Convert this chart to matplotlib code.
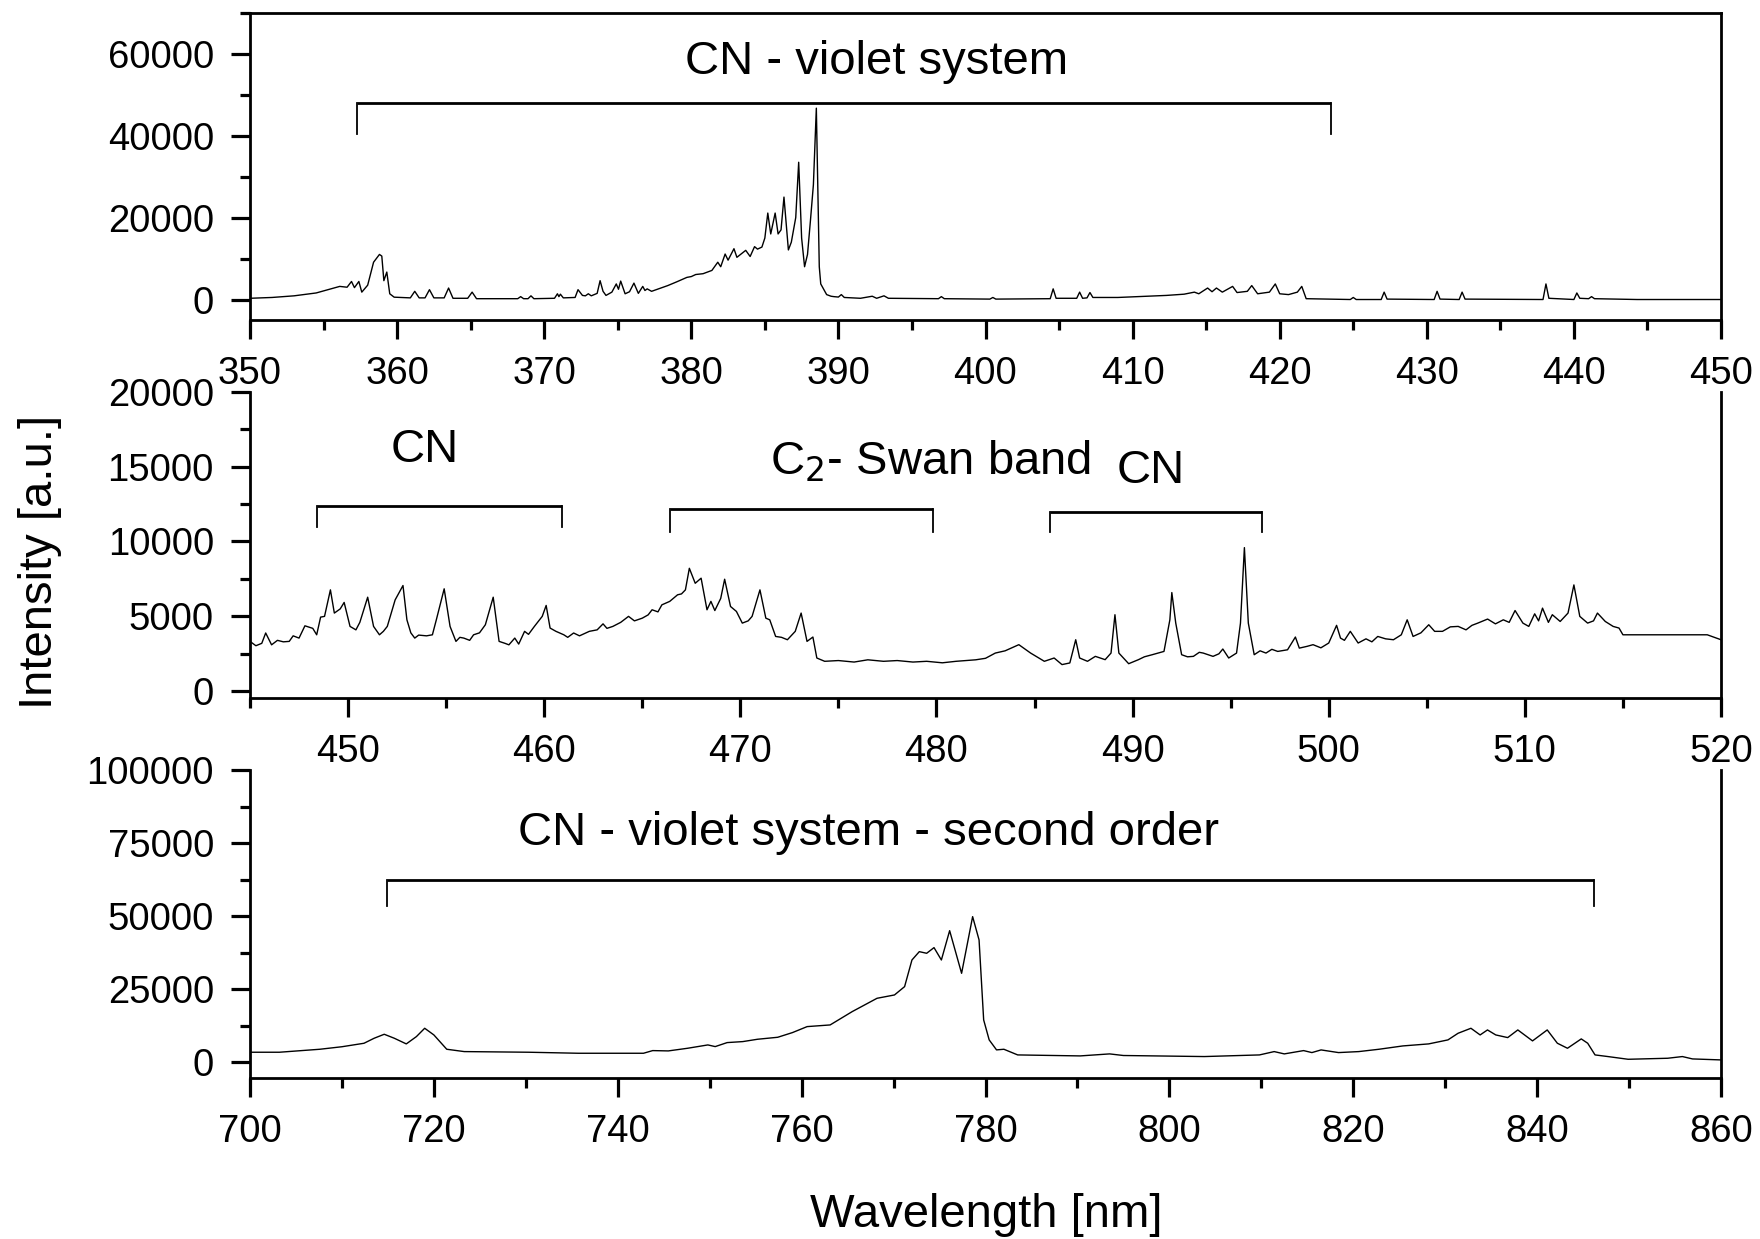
import numpy as np
import matplotlib.pyplot as plt
from matplotlib.ticker import MultipleLocator

plt.rcParams['font.family'] = ['Liberation Sans', 'DejaVu Sans']

# Panel superior: 350-450 nm
wl_top = [350.0, 351.5, 353.0, 354.5, 356.1, 356.6, 356.9, 357.1, 357.4, 357.6, 358.0, 358.4, 358.8, 358.96,
          359.1, 359.3, 359.5, 359.8, 360.9, 361.2, 361.5, 361.9, 362.2, 362.5, 363.2, 363.5, 363.8, 364.8,
          365.1, 365.4, 368.2, 368.4, 368.6, 368.9, 369.1, 369.3, 370.7, 370.9, 371.0, 371.1, 371.3, 372.1,
          372.3, 372.6, 372.8, 373.0, 373.2, 373.6, 373.8, 374.0, 374.2, 374.6, 374.9, 375.05, 375.2, 375.5,
          375.8, 376.1, 376.4, 376.7, 376.85, 377.0, 377.3, 378.4, 379.0, 379.7, 380.0, 380.3, 380.8, 381.4,
          381.8, 382.0, 382.3, 382.5, 382.9, 383.1, 383.7, 384.0, 384.3, 384.5, 384.8, 385.0, 385.2, 385.4,
          385.7, 385.9, 386.1, 386.3, 386.6, 386.8, 386.9, 387.1, 387.3, 387.5, 387.7, 387.9, 388.1, 388.3,
          388.5, 388.7, 388.8, 389.2, 389.5, 389.7, 390.0, 390.2, 390.4, 391.5, 392.3, 392.6, 393.1, 393.4,
          396.8, 397.0, 397.2, 400.3, 400.5, 400.7, 404.4, 404.6, 404.8, 406.2, 406.4, 406.6, 406.9, 407.1,
          407.3, 409.0, 412.3, 413.5, 414.2, 414.5, 415.1, 415.4, 415.7, 416.1, 416.8, 417.1, 417.8, 418.1,
          418.5, 419.3, 419.7, 420.0, 420.6, 421.2, 421.5, 421.8, 424.8, 425.0, 425.2, 426.9, 427.1, 427.3,
          430.5, 430.7, 430.9, 432.2, 432.4, 432.6, 437.9, 438.1, 438.3, 440.0, 440.2, 440.4, 441.0, 441.2,
          441.4, 444.3, 450.0]
int_top = [300, 500, 900, 1600, 3200, 3000, 4400, 2900, 4400, 1800, 3500, 9100, 11000, 10600,
           4600, 6700, 1400, 570, 400, 2000, 400, 400, 2400, 400, 400, 2800, 300, 300,
           1800, 200, 200, 700, 200, 200, 900, 200, 300, 1400, 700, 1300, 400, 500,
           2400, 1000, 900, 1400, 900, 1500, 4600, 2000, 1000, 1800, 3800, 2500, 4500, 1400,
           1900, 4000, 1500, 3200, 2200, 2600, 2000, 3400, 4300, 5400, 5600, 6100, 6300, 7100,
           9100, 8000, 11100, 9600, 12400, 10300, 12000, 10500, 12900, 12300, 12800, 15000, 21100, 16000,
           21100, 16000, 17000, 25000, 12100, 14000, 16000, 20000, 33500, 15000, 8000, 11000, 19300, 28000,
           46700, 8000, 3800, 1200, 800, 700, 600, 1200, 500, 300, 800, 300, 900, 300,
           200, 700, 200, 100, 500, 100, 200, 2600, 300, 300, 1800, 300, 400, 1700,
           500, 500, 1000, 1300, 1800, 1400, 2800, 1900, 2800, 1800, 3200, 1700, 2000, 3400,
           1400, 1800, 3800, 1400, 1200, 1800, 3200, 200, 0, 500, 0, 0, 1800, 100,
           0, 2000, 100, 0, 1800, 100, 0, 3800, 300, 0, 1600, 300, 200, 700,
           200, 0, 0]

# Panel central: 445-520 nm
wl_mid = [445.0, 445.3, 445.6, 445.8, 446.1, 446.4, 446.7, 447.0, 447.2, 447.5, 447.8, 448.2, 448.4, 448.6,
          448.8, 449.1, 449.3, 449.6, 449.8, 450.1, 450.4, 450.6, 451.0, 451.3, 451.6, 451.8, 452.0, 452.4,
          452.8, 453.0, 453.2, 453.4, 453.6, 454.0, 454.3, 454.5, 454.9, 455.2, 455.5, 455.7, 455.9, 456.2,
          456.4, 456.7, 457.0, 457.4, 457.7, 458.0, 458.2, 458.5, 458.7, 459.0, 459.2, 459.5, 459.9, 460.1,
          460.3, 460.6, 461.0, 461.2, 461.5, 461.8, 462.3, 462.7, 463.0, 463.2, 463.5, 463.9, 464.3, 464.6,
          465.0, 465.3, 465.5, 465.8, 466.0, 466.4, 466.8, 467.0, 467.2, 467.4, 467.7, 468.0, 468.3, 468.5,
          468.7, 469.0, 469.2, 469.5, 469.8, 470.1, 470.4, 470.6, 471.0, 471.3, 471.5, 471.8, 472.1, 472.4,
          472.8, 473.1, 473.4, 473.7, 473.9, 474.3, 475.0, 475.8, 476.5, 477.3, 478.0, 478.8, 479.5, 480.3,
          481.0, 482.0, 482.5, 483.0, 483.5, 484.2, 484.8, 485.5, 486.0, 486.4, 486.8, 487.1, 487.3, 487.7,
          488.1, 488.6, 488.9, 489.1, 489.3, 489.8, 490.3, 490.6, 491.0, 491.6, 491.9, 492.0, 492.2, 492.5,
          492.8, 493.1, 493.4, 493.6, 494.1, 494.4, 494.6, 494.9, 495.3, 495.5, 495.7, 495.9, 496.2, 496.5,
          496.8, 497.1, 497.4, 497.9, 498.3, 498.5, 498.9, 499.2, 499.6, 500.0, 500.4, 500.6, 500.8, 501.1,
          501.5, 501.9, 502.2, 502.5, 502.9, 503.3, 503.7, 504.0, 504.3, 504.7, 505.1, 505.4, 505.8, 506.2,
          506.6, 507.0, 507.3, 507.6, 508.1, 508.5, 508.9, 509.2, 509.5, 509.9, 510.2, 510.5, 510.7, 510.9,
          511.2, 511.4, 511.8, 512.2, 512.5, 512.8, 513.2, 513.5, 513.7, 514.1, 514.5, 514.8, 515.0, 519.3,
          520.0]
int_mid = [3330, 3040, 3200, 3890, 3100, 3400, 3300, 3330, 3700, 3550, 4370, 4200, 3770, 4950,
           5000, 6770, 5220, 5500, 5930, 4330, 4100, 4600, 6280, 4330, 3770, 4000, 4330, 6100,
           7060, 4770, 3900, 3550, 3750, 3700, 3770, 4770, 6840, 4330, 3330, 3600, 3550, 3400,
           3770, 3900, 4440, 6280, 3330, 3200, 3100, 3550, 3150, 4000, 3800, 4330, 5000, 5730,
           4220, 4000, 3770, 3600, 3890, 3700, 4000, 4100, 4500, 4200, 4330, 4600, 5000, 4700,
           4880, 5100, 5440, 5300, 5770, 6000, 6440, 6500, 6770, 8210, 7210, 7550, 5440, 6000,
           5390, 6200, 7480, 5660, 5330, 4550, 4700, 5000, 6770, 4880, 4770, 3660, 3600, 3440,
           4000, 5220, 3330, 3620, 2220, 2000, 2050, 1950, 2100, 2000, 2050, 1950, 2000, 1900,
           2000, 2100, 2200, 2550, 2700, 3110, 2550, 2000, 2220, 1780, 1890, 3440, 2220, 2000,
           2330, 2110, 2550, 5110, 2550, 1840, 2110, 2300, 2440, 2660, 4770, 6590, 4550, 2440,
           2300, 2330, 2600, 2550, 2330, 2500, 2820, 2220, 2550, 4550, 9590, 4550, 2440, 2700,
           2550, 2800, 2660, 2770, 3620, 2880, 3000, 3110, 2900, 3220, 4400, 3550, 3400, 4000,
           3220, 3500, 3300, 3660, 3500, 3440, 3770, 4770, 3660, 3900, 4440, 4000, 4000, 4300,
           4330, 4100, 4400, 4550, 4820, 4500, 4770, 4600, 5390, 4550, 4330, 5170, 4700, 5550,
           4600, 5110, 4660, 5220, 7100, 5000, 4550, 4700, 5220, 4660, 4330, 4220, 3770, 3770,
           3440]

# Panel inferior: 700-860 nm (segundo orden)
wl_bot = [700.0, 703.2, 707.6, 710.0, 712.4, 713.5, 714.6, 715.7, 717.0, 718.1, 719.0, 720.0, 721.4, 723.3,
          730.3, 735.7, 742.8, 743.8, 745.5, 747.6, 749.8, 750.6, 751.9, 753.6, 755.2, 757.4, 759.0, 760.6,
          763.1, 765.5, 768.2, 770.1, 771.2, 772.0, 772.8, 773.6, 774.4, 775.2, 776.1, 777.4, 778.6, 779.3,
          779.8, 780.4, 781.2, 782.0, 783.5, 790.3, 793.5, 795.0, 803.8, 809.8, 811.4, 812.5, 814.6, 815.5,
          816.5, 818.4, 820.6, 822.8, 825.4, 828.2, 830.3, 831.4, 832.8, 833.8, 834.6, 835.5, 836.8, 837.9,
          839.5, 841.1, 842.2, 843.3, 844.8, 845.5, 846.3, 847.7, 849.9, 854.2, 855.8, 856.9, 860.0]
int_bot = [3420, 3420, 4440, 5300, 6490, 8200, 9570, 8200, 6270, 8770, 11620, 9340, 4440, 3640,
           3420, 3070, 3070, 3980, 3870, 4780, 5920, 5350, 6720, 7060, 7860, 8540, 10140, 12190,
           12760, 17320, 21880, 23020, 25870, 34990, 37840, 37280, 39220, 34990, 45020, 30430, 49820, 41840,
           14480, 7640, 4220, 4440, 2500, 2160, 2850, 2300, 1940, 2500, 3640, 2850, 3980, 3300,
           4210, 3300, 3640, 4440, 5580, 6270, 7640, 9910, 11620, 9340, 11050, 9340, 8430, 11050,
           7300, 11050, 6500, 4780, 7980, 6500, 2500, 1940, 1010, 1360, 1940, 1130, 790]

# Corchetes: (x_izq, x_der, y_linea, y_fondo)
brk_top = [(357.3, 423.5, 48000, 40300)]
brk_mid = [(448.4, 460.9, 12400, 11000), (466.4, 479.8, 12200, 10600), (485.8, 496.6, 11950, 10600)]
brk_bot = [(714.9, 846.2, 62400, 53500)]

# Etiquetas: (x, y_base, texto)
lab_top = [(392.6, 55100, "CN - violet system")]
lab_mid = [(453.9, 15330, "CN"), (479.7, 14450, "C$_2$- Swan band"), (490.9, 13890, "CN")]
lab_bot = [(767.3, 74300, "CN - violet system - second order")]

W, H = 1760, 1239
fig = plt.figure(figsize=(W / 100, H / 100), dpi=100)


def panel(rect, x, y, xlim, ylim, xstep, ystep, brackets, labels, top_spine):
    ax = fig.add_axes(rect)
    ax.plot(x, y, color='k', lw=1.0)
    ax.set_xlim(*xlim)
    ax.set_ylim(*ylim)
    ax.xaxis.set_major_locator(MultipleLocator(xstep))
    ax.xaxis.set_minor_locator(MultipleLocator(xstep / 2))
    ax.yaxis.set_major_locator(MultipleLocator(ystep))
    ax.yaxis.set_minor_locator(MultipleLocator(ystep / 2))
    ax.tick_params(which='both', direction='out', width=2.3, right=False, top=False,
                   labelsize=27.5, pad=12)
    ax.tick_params(which='major', length=14)
    ax.tick_params(which='minor', length=7)
    for s in ax.spines.values():
        s.set_linewidth(2.0)
    ax.spines['top'].set_visible(top_spine)
    for x0, x1, yl, yb in brackets:
        ax.plot([x0, x1], [yl, yl], color='k', lw=2.0, solid_capstyle='butt')
        ax.plot([x0, x0], [yl, yb], color='k', lw=1.3)
        ax.plot([x1, x1], [yl, yb], color='k', lw=1.3)
    for tx, ty, t in labels:
        ax.text(tx, ty, t, ha='center', va='baseline', fontsize=34)
    return ax


left = 250 / W
width = (1721 - 250) / W
panel([left, 1 - 320 / H, width, 307.3 / H], wl_top, int_top, (350, 450), (-5000, 70000),
      10, 20000, brk_top, lab_top, True)
panel([left, 1 - 698 / H, width, 306.3 / H], wl_mid, int_mid, (445, 520), (-450, 20000),
      10, 5000, brk_mid, lab_mid, False)
panel([left, 1 - 1078.3 / H, width, 308.3 / H], wl_bot, int_bot, (700, 860), (-5500, 100000),
      20, 25000, brk_bot, lab_bot, False)

fig.text(40 / W, 1 - 561.5 / H, "Intensity [a.u.]", rotation=90, ha='center', va='center', fontsize=34)
fig.text(986 / W, 1 - 1227 / H, "Wavelength [nm]", ha='center', va='baseline', fontsize=34)

fig.savefig("out.png", dpi=100)
